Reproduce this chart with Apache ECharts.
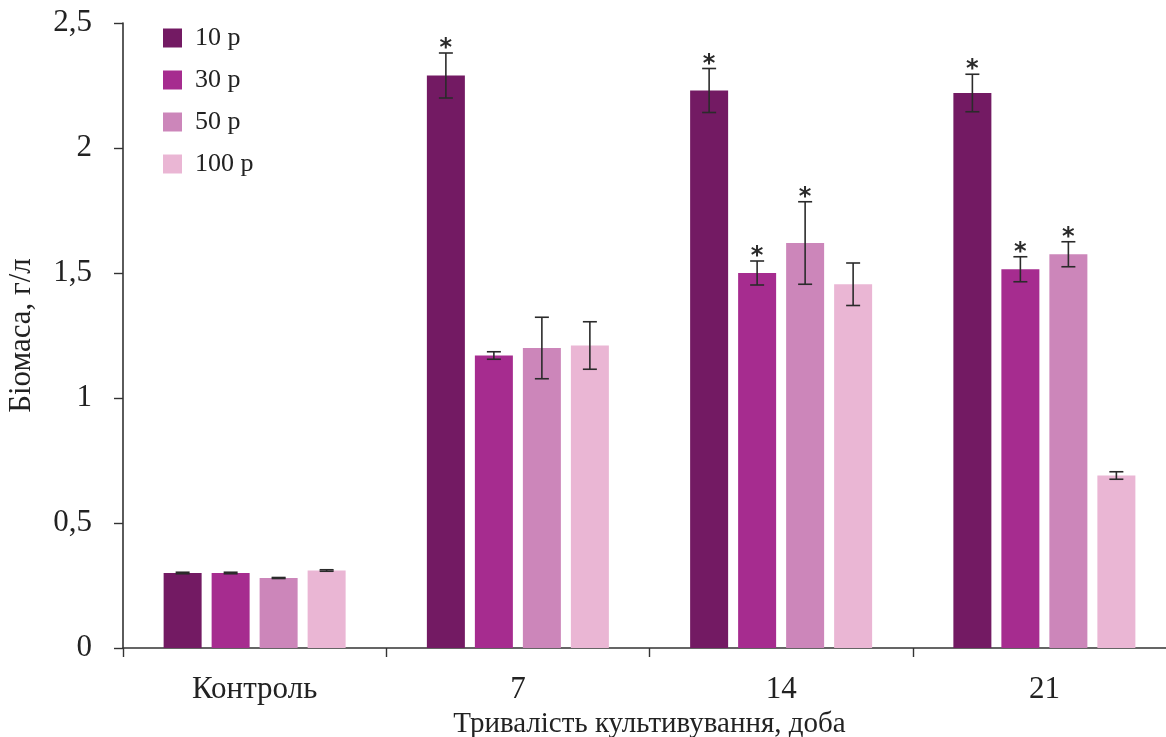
<!DOCTYPE html>
<html>
<head>
<meta charset="utf-8">
<script src="https://cdn.jsdelivr.net/npm/echarts@6/dist/echarts.min.js"></script>
<style>
html,body{margin:0;padding:0;background:#fff;}
#chart{width:1166px;height:737px;}
</style>
</head>
<body>
<div id="chart"></div>
<script>
const categories = ['Контроль', '7', '14', '21'];
const seriesNames = ['10 р', '30 р', '50 р', '100 р'];
const values10 = [0.30, 2.29, 2.23, 2.22];
const values30 = [0.30, 1.17, 1.50, 1.515];
const values50 = [0.28, 1.20, 1.62, 1.575];
const values100 = [0.31, 1.21, 1.455, 0.69];
const errors10 = [0.003, 0.09, 0.088, 0.075];
const errors30 = [0.003, 0.015, 0.048, 0.05];
const errors50 = [0.002, 0.123, 0.165, 0.05];
const errors100 = [0.003, 0.095, 0.085, 0.015];
const sig10 = [0, 1, 1, 1];
const sig30 = [0, 0, 1, 1];
const sig50 = [0, 0, 1, 1];
const sig100 = [0, 0, 0, 0];
const yTicks = ['0', '0,5', '1', '1,5', '2', '2,5'];

const colors = ['#731a63', '#a62c8f', '#cc86ba', '#eab6d4'];
const FONT = 'Liberation Serif';
const BAR_W = 38, BAR_GAP = 10;

const allValues = [values10, values30, values50, values100];
const allErrors = [errors10, errors30, errors50, errors100];
const allSig = [sig10, sig30, sig50, sig100];

const chart = echarts.init(document.getElementById('chart'), null, {renderer: 'canvas'});

const series = [];
allValues.forEach((vals, k) => {
  series.push({
    name: seriesNames[k],
    type: 'bar',
    data: vals,
    barWidth: BAR_W,
    barGap: (BAR_GAP / BAR_W * 100) + '%',
    itemStyle: {color: colors[k]},
    z: 2
  });
});
allValues.forEach((vals, k) => {
  const data = vals.map((v, i) => [i, v, allErrors[k][i], allSig[k][i]]);
  series.push({
    type: 'custom',
    name: 'err' + k,
    data: data,
    z: 5,
    silent: true,
    encode: {x: 0, y: 1},
    renderItem: function (params, api) {
      const cat = api.value(0), v = api.value(1), e = api.value(2), s = api.value(3);
      const top = api.coord([cat, v + e]);
      const bot = api.coord([cat, v - e]);
      const x = top[0] + (k - 1.5) * (BAR_W + BAR_GAP);
      const cap = 7;
      const st = {stroke: '#2b2b2b', lineWidth: 1.6};
      const children = [
        {type: 'line', shape: {x1: x, y1: top[1], x2: x, y2: bot[1]}, style: st},
        {type: 'line', shape: {x1: x - cap, y1: top[1], x2: x + cap, y2: top[1]}, style: st},
        {type: 'line', shape: {x1: x - cap, y1: bot[1], x2: x + cap, y2: bot[1]}, style: st}
      ];
      if (s) {
        children.push({
          type: 'text',
          style: {
            text: '*', x: x, y: top[1] + 8,
            fill: '#2b2b2b',
            font: 'bold 24px "DejaVu Sans"',
            align: 'center', verticalAlign: 'bottom'
          }
        });
      }
      return {type: 'group', children: children};
    }
  });
});

chart.setOption({
  animation: false,
  backgroundColor: '#fff',
  textStyle: {fontFamily: FONT},
  legend: {
    data: seriesNames,
    orient: 'vertical',
    left: 163,
    top: 25,
    padding: 0,
    itemWidth: 19,
    itemHeight: 19,
    itemGap: 16,
    icon: 'rect',
    textStyle: {fontFamily: FONT, fontSize: 26, color: '#222', padding: [0, 0, 0, 8]}
  },
  grid: {left: 123, right: -10, top: 23, bottom: 89, containLabel: false, outerBoundsMode: 'none'},
  xAxis: {
    type: 'category',
    data: categories,
    name: 'Тривалість культивування, доба',
    nameLocation: 'middle',
    nameGap: 62,
    nameTextStyle: {fontFamily: FONT, fontSize: 29, color: '#222'},
    axisLine: {lineStyle: {color: '#333', width: 1.6}},
    axisTick: {show: true, length: 9, lineStyle: {color: '#333', width: 1.4}},
    axisLabel: {fontFamily: FONT, fontSize: 31, color: '#222', margin: 26}
  },
  yAxis: {
    type: 'value',
    min: 0, max: 2.5, interval: 0.5,
    name: 'Біомаса, г/л',
    nameLocation: 'middle',
    nameGap: 86,
    nameTextStyle: {fontFamily: FONT, fontSize: 31, color: '#222'},
    axisLine: {show: true, lineStyle: {color: '#333', width: 1.6}},
    axisTick: {show: true, length: 9, lineStyle: {color: '#333', width: 1.4}},
    splitLine: {show: false},
    axisLabel: {
      fontFamily: FONT, fontSize: 31, color: '#222', margin: 31,
      formatter: function (val) { return yTicks[Math.round(val / 0.5)]; }
    }
  },
  series: series
});
</script>
</body>
</html>
